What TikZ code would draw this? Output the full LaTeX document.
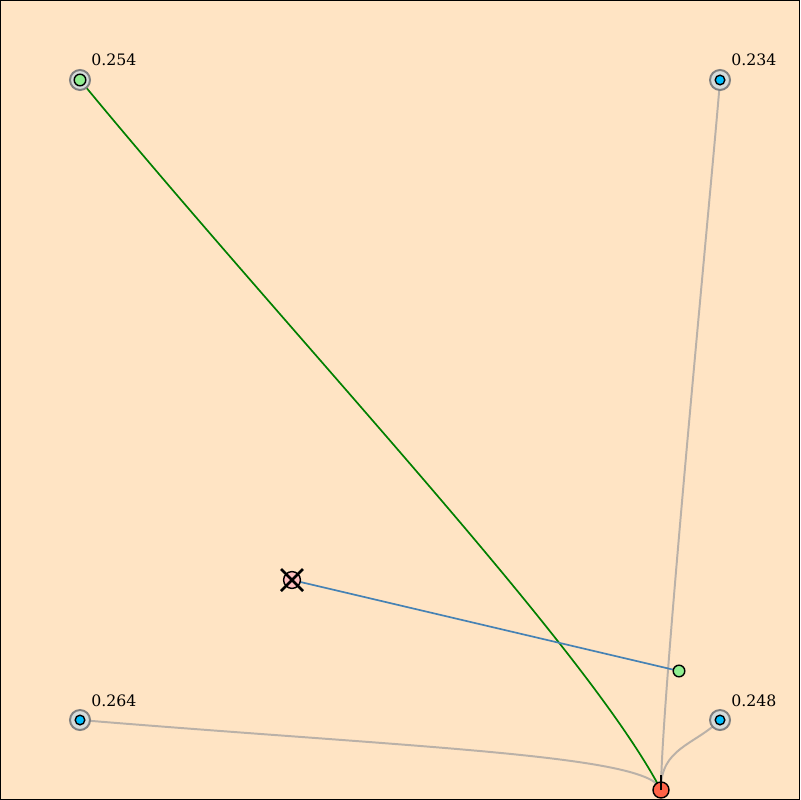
\documentclass[tikz,border=0pt]{standalone}
\usepackage{fontspec}
\setmainfont{DejaVu Serif}
\usepackage{xcolor}
\usepackage{tikz}
\usetikzlibrary{positioning, arrows.meta, calc}
\definecolor{bisquebg}{RGB}{255,228,196}
\definecolor{anchorfill}{RGB}{213,219,218}
\definecolor{linkgray}{RGB}{186,177,168}
\definecolor{skyblue}{RGB}{0,191,255}
\definecolor{lightgreen}{RGB}{144,238,144}
\definecolor{tomatored}{RGB}{255,99,71}
\definecolor{steel}{RGB}{70,130,180}
\tikzset{
  anchorring/.style={circle, draw=gray, fill=anchorfill, line width=1.4pt,
                     minimum size=5mm, inner sep=0pt},
  anchordot/.style ={circle, draw=black, line width=1pt,
                     minimum size=2.4mm, inner sep=0pt},
  tagnode/.style   ={circle, draw=black, line width=1pt, fill=tomatored,
                     minimum size=4mm, inner sep=0pt},
  lbl/.style       ={anchor=base west, inner sep=0pt, font=\fontsize{11.2}{13}\selectfont},
  link/.style      ={draw=linkgray, line width=1.4pt},
}
\begin{document}
\begin{tikzpicture}[x=0.025cm, y=-0.025cm]
  % frame
  \fill[bisquebg] (0,0) rectangle (800,800);
  \useasboundingbox (0,0) rectangle (800,800);

  % positions
  \coordinate (A1) at (80,80);
  \coordinate (A2) at (720,80);
  \coordinate (A3) at (80,720);
  \coordinate (A4) at (720,720);
  \coordinate (T)  at (661,790);
  \coordinate (E)  at (292,580);
  \coordinate (P)  at (679,671);

  % links to the anchors
  \draw[link] (T) .. controls (661,700) and (714,160) .. (A2);
  \draw[link] (T) .. controls (652,755) and (420,748) .. (A3);
  \draw[link] (T) .. controls (660,748) and (695,745) .. (A4);
  \draw[green!50!black, line width=1.2pt] (A1) .. controls (290,335) and (585,645) .. (T);
  \draw[steel, line width=1.2pt] (E) -- (P);

  % anchors
  \foreach \a/\c/\s in {A1/lightgreen/2.9mm, A2/skyblue/2.4mm, A3/skyblue/2.4mm, A4/skyblue/2.4mm}{
    \node[anchorring] (\a ring) at (\a) {};
    \node[anchordot, fill=\c, minimum size=\s] (\a dot) at (\a) {};
  }
  \node[lbl] (L1) at (91,66)  {0.254};
  \node[lbl] (L2) at (731,66) {0.234};
  \node[lbl] (L3) at (91,706) {0.264};
  \node[lbl] (L4) at (731,706) {0.248};

  % estimate and tag
  \node[anchordot, fill=pink, minimum size=4.2mm] (est) at (E) {};
  \draw[line width=1.8pt] ($(E)+(-11,-11)$) -- ($(E)+(11,11)$);
  \draw[line width=1.8pt] ($(E)+(-11,11)$) -- ($(E)+(11,-11)$);
  \node[anchordot, fill=lightgreen, minimum size=2.9mm] (pos) at (P) {};
  \node[tagnode] (tag) at (T) {};
  \draw[line width=1.6pt] (tag.center) -- ++(0,-15);

  \draw[black, line width=1pt] (0.5,0.5) rectangle (799.5,799.5);
\end{tikzpicture}
\end{document}
